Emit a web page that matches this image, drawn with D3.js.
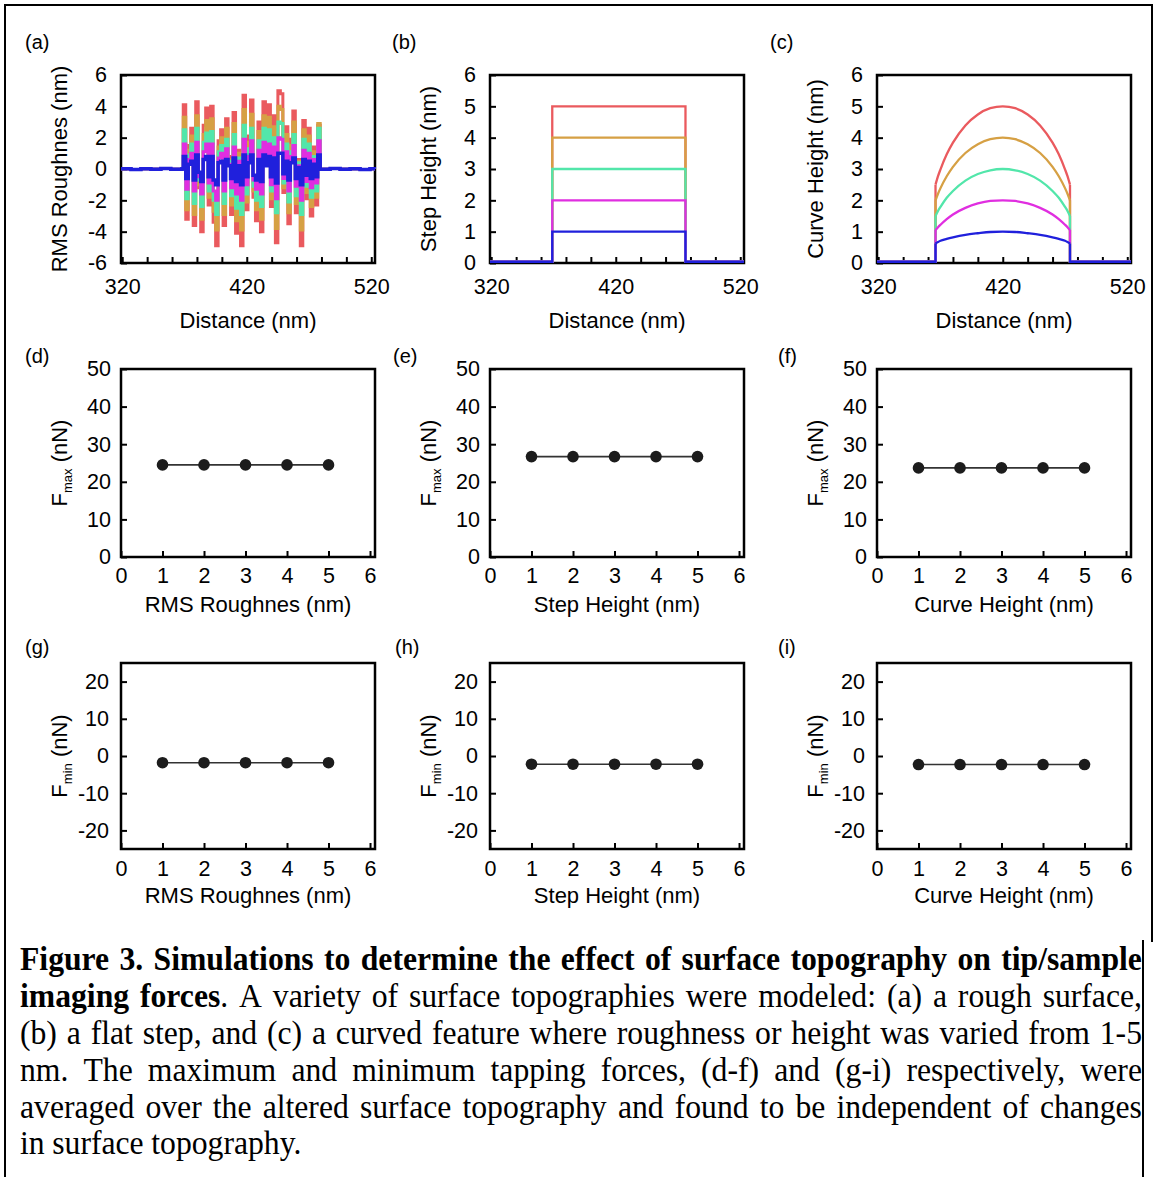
<!DOCTYPE html>
<html><head><meta charset="utf-8">
<script src="https://cdn.jsdelivr.net/npm/d3@7"></script>
<style>
body{margin:0;background:#fff}
svg{display:block}
text{font-family:"Liberation Sans",Arial,sans-serif;fill:#000}
.cap text{font-family:"Liberation Serif","Times New Roman",serif}
</style>
</head><body>
<svg id="c" width="1158" height="1177"></svg>
<script>
// ---------------- DATA ----------------
const distanceTicks = [320,340,360,380,400,420,440,460,480,500,520];
const distanceLabels = [320,420,520];
const roughTicks = [-6,-4,-2,0,2,4,6];
const heightTicks = [0,1,2,3,4,5,6];
const paramTicks = [0,1,2,3,4,5,6];
const fmaxTicks = [0,10,20,30,40,50];
const fminTicks = [-20,-10,0,10,20];
const heights = [1,2,3,4,5];
const seriesColors = ["#2020dc","#e02ee0","#52e6aa","#d6a044","#ea5a5e"]; // for heights 1..5

// (a) rough surface profiles
const flatLeftX  = [319,327,335,343,351,359,368];
const flatLeftY  = [0.02,-0.03,0.02,-0.02,0.03,-0.02,0.01];
const flatRightX = [479,487,495,503,511,519,523];
const flatRightY = [-0.02,0.03,-0.02,0.02,-0.03,0.02,0.01];
const roughX = [369,371,373,375,377,379,381,383,385,387,389,391,393,395,397,399,401,403,405,407,409,411,413,415,417,419,421,423,425,427,429,431,433,435,437,439,441,443,445,447,449,451,453,455,457,459,461,463,465,467,469,471,473,475,477];
const rough5 = [4.1,-3.2,1.5,2.6,-3.6,4.3,-1.2,-4.0,2.8,3.9,-2.3,4.0,-3.4,-4.9,1.8,2.5,-3.6,3.2,0.8,-2.9,3.6,-4.1,1.2,-4.9,4.7,-2.6,2.1,4.4,-1.8,-3.3,3.0,-4.0,4.3,1.1,4.1,-2.4,3.4,-4.7,5.0,4.8,-1.5,2.7,-3.5,1.9,3.7,-2.8,0.6,-4.9,3.1,-1.9,2.6,-3.0,1.4,-2.3,2.8];
const rough4 = [3.3,-2.6,1.2,2.1,-2.9,3.4,-1.0,-3.2,2.2,3.1,-1.8,3.2,-2.7,-3.9,1.4,2.0,-2.9,2.6,0.6,-2.3,2.9,-3.3,1.0,-3.9,3.8,-2.1,1.7,3.5,-1.4,-2.6,2.4,-3.2,3.4,0.9,3.3,-1.9,2.7,-3.8,4.0,3.8,-1.2,2.2,-2.8,1.5,3.0,-2.2,0.5,-3.9,2.5,-1.5,2.1,-2.4,1.1,-1.8,2.9];
const rough3 = [2.5,-1.9,0.9,1.6,-2.2,2.6,-0.7,-2.4,1.7,2.3,-1.4,2.4,-2.0,-2.9,1.1,1.5,-2.2,1.9,0.5,-1.7,2.2,-2.5,0.7,-2.9,2.8,-1.6,1.3,2.6,-1.1,-2.0,1.8,-2.4,2.6,0.7,2.5,-1.4,2.0,-2.8,3.0,2.9,-0.9,1.6,-2.1,1.1,2.2,-1.7,0.4,-2.9,1.9,-1.1,1.6,-1.8,0.8,-1.4,2.6];
const rough2 = [1.6,-1.3,0.6,1.0,-1.4,1.7,-0.5,-1.6,1.1,1.6,-0.9,1.6,-1.4,-2.0,0.7,1.0,-1.4,1.3,0.3,-1.2,1.4,-1.6,0.5,-2.0,1.9,-1.0,0.8,1.8,-0.7,-1.3,1.2,-1.6,1.7,0.4,1.6,-1.0,1.4,-1.9,2.0,1.9,-0.6,1.1,-1.4,0.8,1.5,-1.1,0.2,-2.0,1.2,-0.8,1.0,-1.2,0.6,-0.9,1.8];
const rough1 = [0.8,-0.6,0.3,0.5,-0.7,0.9,-0.2,-0.8,0.6,0.8,-0.5,0.8,-0.7,-1.0,0.4,0.5,-0.7,0.6,0.2,-0.6,0.7,-0.8,0.2,-1.0,0.9,-0.5,0.4,0.9,-0.4,-0.7,0.6,-0.8,0.9,0.2,0.8,-0.5,0.7,-0.9,1.0,1.0,-0.3,0.5,-0.7,0.4,0.7,-0.6,0.1,-1.0,0.6,-0.4,0.5,-0.6,0.3,-0.5,0.9];
const roughSeries = [rough1,rough2,rough3,rough4,rough5];

// (b) flat step
const stepEdgeX = [369,476];
const profileEndX = [319,523];
const baseLevel = 0.04;

// (c) curved feature
const curveX = [366,368,370,375,380,390,400,410,420,430,440,450,460,465,470,472,474];
const curve5 = [2.50,2.77,2.99,3.47,3.84,4.39,4.74,4.94,5.00,4.94,4.74,4.39,3.84,3.47,2.99,2.77,2.50];
const curve4 = [2.00,2.21,2.39,2.77,3.07,3.51,3.79,3.95,4.00,3.95,3.79,3.51,3.07,2.77,2.39,2.21,2.00];
const curve3 = [1.50,1.66,1.79,2.08,2.30,2.63,2.84,2.96,3.00,2.96,2.84,2.63,2.30,2.08,1.79,1.66,1.50];
const curve2 = [1.05,1.14,1.22,1.40,1.55,1.76,1.90,1.98,2.00,1.98,1.90,1.76,1.55,1.40,1.22,1.14,1.05];
const curve1 = [0.62,0.67,0.71,0.77,0.82,0.90,0.95,0.99,1.00,0.99,0.95,0.90,0.82,0.77,0.71,0.67,0.62];
const curveSeries = [curve1,curve2,curve3,curve4,curve5];

// (d)-(i) forces
const fmaxRough = [24.5,24.5,24.5,24.5,24.5];
const fmaxStep  = [26.7,26.7,26.7,26.7,26.7];
const fmaxCurve = [23.7,23.7,23.7,23.7,23.7];
const fminRough = [-1.8,-1.8,-1.8,-1.8,-1.8];
const fminStep  = [-2.2,-2.2,-2.2,-2.2,-2.2];
const fminCurve = [-2.3,-2.3,-2.3,-2.3,-2.3];

const panelLetters = [["(a)","(b)","(c)"],["(d)","(e)","(f)"],["(g)","(h)","(i)"]];
const xTitles = [["Distance (nm)","Distance (nm)","Distance (nm)"],
                 ["RMS Roughnes (nm)","Step Height (nm)","Curve Height (nm)"],
                 ["RMS Roughnes (nm)","Step Height (nm)","Curve Height (nm)"]];
const yTitlesTop = ["RMS Roughnes (nm)","Step Height (nm)","Curve Height (nm)"];

const captionLines = [
  [{t:"Figure 3. Simulations to determine the effect of surface topography on tip/sample",b:true}],
  [{t:"imaging forces",b:true},{t:". A variety of surface topographies were modeled: (a) a rough surface,",b:false}],
  [{t:"(b) a flat step, and (c) a curved feature where roughness or height was varied from 1-5",b:false}],
  [{t:"nm. The maximum and minimum tapping forces, (d-f) and (g-i) respectively, were",b:false}],
  [{t:"averaged over the altered surface topography and found to be independent of changes",b:false}],
  [{t:"in surface topography.",b:false}]
];

// ---------------- LAYOUT ----------------
const W = 1158, H = 1177;
const colLeft = [121,490,877];
const plotW = 254;
const rowTop = [75,369,663];
const rowBottom = [263,557,849];
const letterX = [[25,392,770],[25,393,778],[25,395,778]];
const letterY = [49,363,654];
const xPad = [16,11,12];
const yPad = [14,10,12];
const xTitleY = [328,612,903];
const yTitleX = 59;
const tickFont = 21.5, titleFont = 22;

const svg = d3.select("#c");
svg.append("rect").attr("width",W).attr("height",H).attr("fill","#fff");

// outer frame
svg.append("path").attr("d","M5,1177 V5 H1152 V942 M1143,940 V1177")
  .attr("fill","none").attr("stroke","#000").attr("stroke-width",2);

function styleAxis(s){
  s.select(".domain").remove();
  s.selectAll(".tick line").attr("stroke","#000").attr("stroke-width",2);
  s.selectAll(".tick text").attr("font-size",tickFont).attr("font-family","Liberation Sans, Arial, sans-serif").attr("fill","#000");
}

function makePanel(row,col,xDomain,yDomain,xTicks,xLabels,yTicks){
  const x0 = colLeft[col], y0 = rowTop[row], h = rowBottom[row]-rowTop[row];
  const g = svg.append("g").attr("transform",`translate(${x0},${y0})`);
  const x = d3.scaleLinear().domain(xDomain).range([0,plotW]);
  const y = d3.scaleLinear().domain(yDomain).range([h,0]);
  const id = `clip${row}${col}`;
  g.append("clipPath").attr("id",id).append("rect").attr("x",-1).attr("y",-1).attr("width",plotW+2).attr("height",h+2);
  g.append("g").attr("transform",`translate(0,${h})`)
    .call(d3.axisBottom(x).tickValues(xTicks).tickSizeInner(-6).tickSizeOuter(0).tickPadding(xPad[row])
      .tickFormat(d=>xLabels.includes(d)?String(d):""))
    .call(styleAxis);
  g.append("g")
    .call(d3.axisLeft(y).tickValues(yTicks).tickSizeInner(-6).tickSizeOuter(0).tickPadding(yPad[row])
      .tickFormat(d=>String(d)))
    .call(styleAxis);
  g.append("rect").attr("width",plotW).attr("height",h).attr("fill","none").attr("stroke","#000").attr("stroke-width",2.5);
  const data = g.append("g").attr("clip-path",`url(#${id})`);
  svg.append("text").attr("x",letterX[row][col]).attr("y",letterY[row]).attr("font-size",20).text(panelLetters[row][col]);
  svg.append("text").attr("x",x0+plotW/2).attr("y",xTitleY[row]).attr("text-anchor","middle").attr("font-size",titleFont).text(xTitles[row][col]);
  return {g,data,x,y,h,x0,y0};
}

function yTitle(p,build){
  const t = svg.append("text").attr("transform",`translate(${yTitleX + (p.x0-121)},${p.y0+p.h/2}) rotate(-90)`)
    .attr("text-anchor","middle").attr("dy","0.36em").attr("font-size",titleFont);
  build(t);
}

// ----- Row 1 -----
{
  const p = makePanel(0,0,[319,523],[-6,6],distanceTicks,distanceLabels,roughTicks);
  yTitle(p,t=>t.text(yTitlesTop[0]));
  const line = d3.line().x(d=>p.x(d[0])).y(d=>p.y(d[1])).curve(d3.curveStepAfter);
  for(let k=4;k>=0;k--){
    const pts = flatLeftX.map((v,i)=>[v,flatLeftY[i]])
      .concat(roughX.map((v,i)=>[v,roughSeries[k][i]]))
      .concat(flatRightX.map((v,i)=>[v,flatRightY[i]]));
    p.data.append("path").attr("d",line(pts)).attr("fill","none")
      .attr("stroke",seriesColors[k]).attr("stroke-width",k===0?3.5:3);
  }
}
{
  const p = makePanel(0,1,[319,523],[0,6],distanceTicks,distanceLabels,heightTicks);
  yTitle(p,t=>t.text(yTitlesTop[1]));
  const line = d3.line().x(d=>p.x(d[0])).y(d=>p.y(d[1]));
  for(let k=4;k>=0;k--){
    const hh = heights[k];
    const pts = [[profileEndX[0],baseLevel],[stepEdgeX[0],baseLevel],[stepEdgeX[0],hh],[stepEdgeX[1],hh],[stepEdgeX[1],baseLevel],[profileEndX[1],baseLevel]];
    p.data.append("path").attr("d",line(pts)).attr("fill","none").attr("stroke",seriesColors[k]).attr("stroke-width",2.3);
  }
}
{
  const p = makePanel(0,2,[319,523],[0,6],distanceTicks,distanceLabels,heightTicks);
  yTitle(p,t=>t.text(yTitlesTop[2]));
  const lin = d3.line().x(d=>p.x(d[0])).y(d=>p.y(d[1]));
  const arc = d3.line().x(d=>p.x(d[0])).y(d=>p.y(d[1])).curve(d3.curveMonotoneX);
  for(let k=4;k>=0;k--){
    const c = curveSeries[k];
    const n = curveX.length;
    const g2 = p.data.append("g").attr("fill","none").attr("stroke",seriesColors[k]).attr("stroke-width",2.3);
    g2.append("path").attr("d",lin([[profileEndX[0],baseLevel],[curveX[0],baseLevel],[curveX[0],c[0]]]));
    g2.append("path").attr("d",arc(curveX.map((v,i)=>[v,c[i]])));
    g2.append("path").attr("d",lin([[curveX[n-1],c[n-1]],[curveX[n-1],baseLevel],[profileEndX[1],baseLevel]]));
  }
}

// ----- Rows 2 & 3 -----
const forceSets = [[fmaxRough,fmaxStep,fmaxCurve],[fminRough,fminStep,fminCurve]];
for(let r=1;r<=2;r++){
  for(let c=0;c<3;c++){
    const yDom = r===1?[0,50]:[-25,25];
    const yT = r===1?fmaxTicks:fminTicks;
    const p = makePanel(r,c,[0,6.12],yDom,paramTicks,paramTicks,yT);
    yTitle(p,t=>{
      t.append("tspan").text("F");
      t.append("tspan").attr("font-size",13).attr("dy",5).text(r===1?"max":"min");
      t.append("tspan").attr("dy",-5).text(" (nN)");
    });
    const vals = forceSets[r-1][c];
    const pts = heights.map((hv,i)=>[hv,vals[i]]);
    p.data.append("path").attr("d",d3.line().x(d=>p.x(d[0])).y(d=>p.y(d[1]))(pts))
      .attr("fill","none").attr("stroke","#333").attr("stroke-width",1.6);
    p.data.selectAll("circle").data(pts).join("circle")
      .attr("cx",d=>p.x(d[0])).attr("cy",d=>p.y(d[1])).attr("r",5.8).attr("fill","#1c1c1c");
  }
}

// ----- Caption -----
const capG = svg.append("g").attr("class","cap");
const capX0 = 20, capX1 = 1142, capFont = 33, capSX = 0.96;
const capBase = [970,1007,1044,1081,1118,1154];
captionLines.forEach((segs,li)=>{
  const words = [];
  let cur = null;
  segs.forEach(s=>{
    s.t.split(" ").forEach((part,i)=>{
      if(i>0 || !cur){ cur=[]; words.push(cur); }
      if(part) cur.push({t:part,b:s.b});
    });
  });
  const ws = words.filter(w=>w.length);
  const els = ws.map(w=>{
    const t = capG.append("text").attr("x",0).attr("y",capBase[li]).attr("font-size",capFont);
    w.forEach(pc=>t.append("tspan").attr("font-weight",pc.b?"bold":"normal").text(pc.t));
    return t;
  });
  const widths = els.map(e=>e.node().getComputedTextLength());
  const total = d3.sum(widths);
  const last = li===captionLines.length-1;
  let sx = capSX;
  let gap = last ? capFont*0.23 : (capX1-capX0-total*sx)/(ws.length-1);
  if(!last && gap < capFont*0.18){ gap = capFont*0.18; sx = (capX1-capX0-gap*(ws.length-1))/total; }
  let xx = capX0;
  els.forEach((e,i)=>{
    e.attr("transform",`translate(${xx},0) scale(${sx},1)`);
    xx += widths[i]*sx + gap;
  });
});
</script>
</body></html>
